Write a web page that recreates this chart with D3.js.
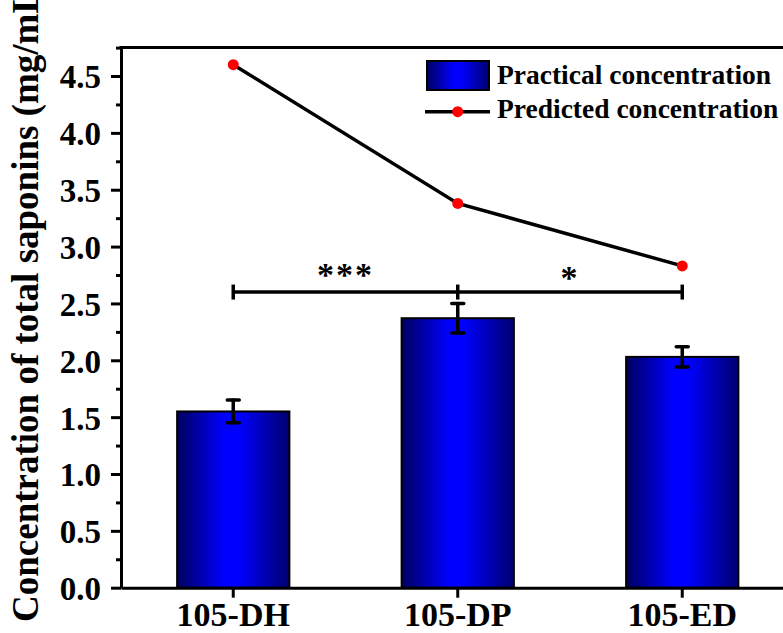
<!DOCTYPE html>
<html>
<head>
<meta charset="utf-8">
<script src="https://cdn.jsdelivr.net/npm/d3@7/dist/d3.min.js"></script>
<style>
  html, body { margin: 0; padding: 0; background: #fff; }
  svg { display: block; }
  text { font-family: "Liberation Serif", "Times New Roman", serif; font-weight: bold; fill: #000; }
</style>
</head>
<body>
<svg id="chart" width="783" height="633"></svg>
<script>
// ---- data ----
const categories = ["105-DH", "105-DP", "105-ED"];
const practical = [1.55, 2.37, 2.03];
const practicalErr = [0.10, 0.13, 0.09];
const predicted = [4.60, 3.38, 2.83];
const yTicks = [0, 0.5, 1.0, 1.5, 2.0, 2.5, 3.0, 3.5, 4.0, 4.5];
const yMinorTicks = [0.25, 0.75, 1.25, 1.75, 2.25, 2.75, 3.25, 3.75, 4.25, 4.75];
const sigPairs = [[0, 1, "***"], [1, 2, "*"]];
const sigLevel = 2.6;
const legendLabels = ["Practical concentration", "Predicted concentration"];
const yTitle = "Concentration of total saponins (mg/mL)";

// ---- layout ----
const svg = d3.select("#chart");
const x0 = 121, x1 = 794.5, yBottom = 587.7, yTop = 47.6;
const x = d3.scaleBand().domain(categories).range([x0, x1]).paddingInner(0.5).paddingOuter(0.25);
const y = d3.scaleLinear().domain([0, 4.75]).range([yBottom, yTop]);
const cx = d => x(d) + x.bandwidth() / 2;

// gradient
const defs = svg.append("defs");
const grad = defs.append("linearGradient").attr("id", "barGrad").attr("x1", "0%").attr("x2", "100%").attr("y1", "0%").attr("y2", "0%");
[[0, "#000060"], [0.42, "#0000ff"], [0.55, "#0000ff"], [1, "#000070"]].forEach(([o, c]) =>
  grad.append("stop").attr("offset", o).attr("stop-color", c));

// bars
svg.append("g").selectAll("rect").data(categories).join("rect")
  .attr("x", d => x(d)).attr("width", x.bandwidth())
  .attr("y", (d, i) => y(practical[i])).attr("height", (d, i) => y(0) - y(practical[i]))
  .attr("fill", "url(#barGrad)").attr("stroke", "#000").attr("stroke-width", 2);

// error bars
const eb = svg.append("g").attr("stroke", "#000").attr("stroke-width", 3.5).attr("stroke-linecap", "round");
categories.forEach((c, i) => {
  const hi = y(practical[i] + practicalErr[i]), lo = y(practical[i] - practicalErr[i]);
  eb.append("line").attr("x1", cx(c)).attr("x2", cx(c)).attr("y1", hi).attr("y2", lo);
  eb.append("line").attr("x1", cx(c) - 6).attr("x2", cx(c) + 6).attr("y1", hi).attr("y2", hi);
  eb.append("line").attr("x1", cx(c) - 6).attr("x2", cx(c) + 6).attr("y1", lo).attr("y2", lo);
});

// significance bracket
const sg = svg.append("g");
const sy = y(sigLevel);
sg.append("line").attr("x1", cx(categories[0])).attr("x2", cx(categories[2])).attr("y1", sy).attr("y2", sy)
  .attr("stroke", "#000").attr("stroke-width", 3.5);
categories.forEach(c => sg.append("line").attr("x1", cx(c)).attr("x2", cx(c)).attr("y1", sy - 7.5).attr("y2", sy + 7.5)
  .attr("stroke", "#000").attr("stroke-width", 3.5));
sigPairs.forEach(([a, b, s], k) => {
  sg.append("text").attr("x", (cx(categories[a]) + cx(categories[b])) / 2).attr("y", sy - (k === 0 ? 6 : 3))
    .attr("text-anchor", "middle").style("font-size", "34px").style("letter-spacing", "2px").text(s);
});

// predicted line
const line = d3.line().x((d, i) => cx(categories[i])).y(d => y(d));
svg.append("path").datum(predicted).attr("d", line).attr("fill", "none").attr("stroke", "#000").attr("stroke-width", 3.5);
svg.append("g").selectAll("circle").data(predicted).join("circle")
  .attr("cx", (d, i) => cx(categories[i])).attr("cy", d => y(d)).attr("r", 5.5).attr("fill", "#ff0000");

// axes
const yAxis = svg.append("g").attr("transform", `translate(${x0},0)`)
  .call(d3.axisLeft(y).tickValues(yTicks).tickFormat(d3.format(".1f")).tickSize(10).tickSizeOuter(0).tickPadding(10));
const yMinor = svg.append("g").attr("transform", `translate(${x0},0)`)
  .call(d3.axisLeft(y).tickValues(yMinorTicks).tickFormat("").tickSize(5).tickSizeOuter(0));
const xAxis = svg.append("g").attr("transform", `translate(0,${yBottom})`)
  .call(d3.axisBottom(x).tickSize(10).tickSizeOuter(0).tickPadding(4));
[yAxis, yMinor, xAxis].forEach(g => {
  g.selectAll("path.domain").attr("stroke", "#000").attr("stroke-width", 3);
  g.selectAll(".tick line").attr("stroke", "#000").attr("stroke-width", 3);
});
yAxis.selectAll("text").style("font-size", "33px").attr("dy", "0.36em");
xAxis.selectAll("text").style("font-size", "34px");
// top frame line
svg.append("line").attr("x1", x0 - 1.5).attr("x2", x1).attr("y1", y(4.75)).attr("y2", y(4.75))
  .attr("stroke", "#000").attr("stroke-width", 3);

// y title
svg.append("text").attr("transform", "translate(38,622) rotate(-90)")
  .attr("text-anchor", "start").style("font-size", "37px").text(yTitle);

// legend
const lg = svg.append("g");
lg.append("rect").attr("x", 427).attr("y", 61).attr("width", 62).attr("height", 29)
  .attr("fill", "url(#barGrad)").attr("stroke", "#000").attr("stroke-width", 2);
lg.append("line").attr("x1", 425).attr("x2", 490).attr("y1", 111.7).attr("y2", 111.7).attr("stroke", "#000").attr("stroke-width", 3.5);
lg.append("circle").attr("cx", 457.7).attr("cy", 111.7).attr("r", 5.5).attr("fill", "#ff0000");
lg.selectAll("text").data(legendLabels).join("text")
  .attr("x", 497).attr("y", (d, i) => 84.3 + i * 34).style("font-size", "27.5px").text(d => d);
</script>
</body>
</html>
